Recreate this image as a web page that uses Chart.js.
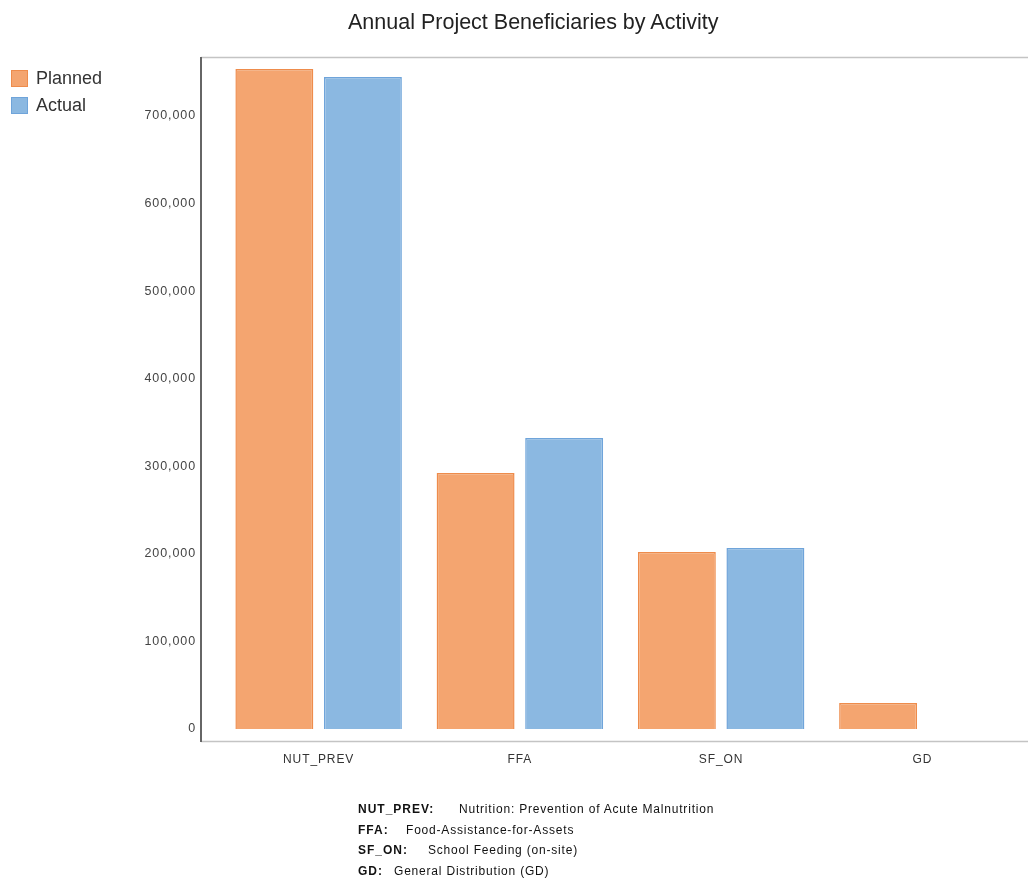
<!DOCTYPE html>
<html>
<head>
<meta charset="utf-8">
<script src="https://cdn.jsdelivr.net/npm/chart.js@4"></script>
<style>
  body { margin: 0; background: #fff; font-family: "Liberation Sans", Arial, sans-serif; }
  #wrap { position: relative; width: 1028px; height: 879px; }
  #titulo { position: absolute; top: 10px; left: 348px; font-size: 21.5px; color: #222; white-space: nowrap; }
  #legenda { position: absolute; top: 65px; left: 11px; font-size: 18px; color: #333; }
  #legenda div { height: 27px; display: flex; align-items: center; }
  #legenda span.box { width: 17px; height: 17px; margin-right: 8px; box-sizing: border-box; border: 1px solid; }
  #notas { position: absolute; top: 802px; left: 358px; font-size: 12px; color: #111; }
  #notas div { height: 20.5px; white-space: nowrap; }
  #notas b { display: inline-block; letter-spacing: 1px; }
  #notas span { letter-spacing: 0.8px; }
</style>
</head>
<body>
<div id="wrap">
  <canvas id="grafico" width="1028" height="879"></canvas>
  <div id="titulo">Annual Project Beneficiaries by Activity</div>
  <div id="legenda"></div>
  <div id="notas"></div>
</div>
<script>
// dados
const categorias = ['NUT_PREV', 'FFA', 'SF_ON', 'GD'];
const planejado = [753700, 292300, 202100, 29700];
const realizado = [744600, 332300, 206700, null];
const descricoes = [
    'Nutrition: Prevention of Acute Malnutrition',
    'Food-Assistance-for-Assets',
    'School Feeding (on-site)',
    'General Distribution (GD)'
];
const ticksY = [0, 100000, 200000, 300000, 400000, 500000, 600000, 700000];

const series = [
    { nome: 'Planned', fundo: '#f4a570', borda: '#ee8c4c' },
    { nome: 'Actual', fundo: '#8bb8e1', borda: '#6fa4da' }
];
// largura da coluna do codigo em cada linha do rodape (px)
const recuoNotas = [101, 48, 70, 36];

// legenda custom
const legenda = document.getElementById('legenda');
series.forEach(s => {
    const linha = document.createElement('div');
    linha.innerHTML = '<span class="box" style="background:' + s.fundo + ';border-color:' + s.borda + '"></span>' + s.nome;
    legenda.appendChild(linha);
});

// notas de rodape
const notas = document.getElementById('notas');
categorias.forEach((c, i) => {
    const linha = document.createElement('div');
    const b = document.createElement('b');
    b.textContent = c + ':';
    b.style.width = recuoNotas[i] + 'px';
    const d = document.createElement('span');
    d.textContent = descricoes[i];
    linha.appendChild(b);
    linha.appendChild(d);
    notas.appendChild(linha);
});

// moldura da area do grafico
const moldura = {
    id: 'moldura',
    beforeDraw(chart) {
        const ctx = chart.ctx;
        const a = chart.chartArea;
        const esq = a.left - 17;
        ctx.save();
        ctx.strokeStyle = '#c4c4c4';
        ctx.lineWidth = 1.5;
        ctx.beginPath();
        ctx.moveTo(esq, a.top + 0.5);
        ctx.lineTo(chart.width, a.top + 0.5);
        ctx.moveTo(esq, a.bottom + 0.5);
        ctx.lineTo(chart.width, a.bottom + 0.5);
        ctx.stroke();
        ctx.strokeStyle = '#666';
        ctx.lineWidth = 2;
        ctx.beginPath();
        ctx.moveTo(esq, a.top);
        ctx.lineTo(esq, a.bottom + 1);
        ctx.stroke();
        ctx.restore();
        ctx.letterSpacing = '0.9px'; // rotulos dos eixos mais espacados
    }
};

window.addEventListener('load', function () {
    const ctx = document.getElementById('grafico').getContext('2d');
    new Chart(ctx, {
        type: 'bar',
        data: {
            labels: categorias,
            datasets: [
                { label: series[0].nome, data: planejado, backgroundColor: series[0].fundo, borderColor: series[0].borda, borderWidth: 1.5 },
                { label: series[1].nome, data: realizado, backgroundColor: series[1].fundo, borderColor: series[1].borda, borderWidth: 1.5 }
            ]
        },
        options: {
            responsive: false,
            animation: false,
            categoryPercentage: 0.88,
            barPercentage: 0.88,
            layout: { padding: { top: 57, right: 5, left: 0, bottom: 0 } },
            plugins: {
                legend: { display: false },
                tooltip: { enabled: false }
            },
            scales: {
                x: {
                    grid: { display: false, drawTicks: false },
                    border: { display: false },
                    ticks: { color: '#333', padding: 11, font: { family: 'Liberation Sans', size: 12 } },
                    afterFit(scale) { scale.height = 138; }
                },
                y: {
                    min: -13700,
                    max: 767400,
                    grid: { display: false, drawTicks: false },
                    border: { display: false },
                    ticks: {
                        color: '#444',
                        padding: 22,
                        font: { family: 'Liberation Sans', size: 12.5 },
                        callback: v => v.toLocaleString('en-US')
                    },
                    afterBuildTicks(scale) { scale.ticks = ticksY.map(v => ({ value: v })); },
                    afterFit(scale) { scale.width = 218; }
                }
            }
        },
        plugins: [moldura]
    });
});
</script>
</body>
</html>
